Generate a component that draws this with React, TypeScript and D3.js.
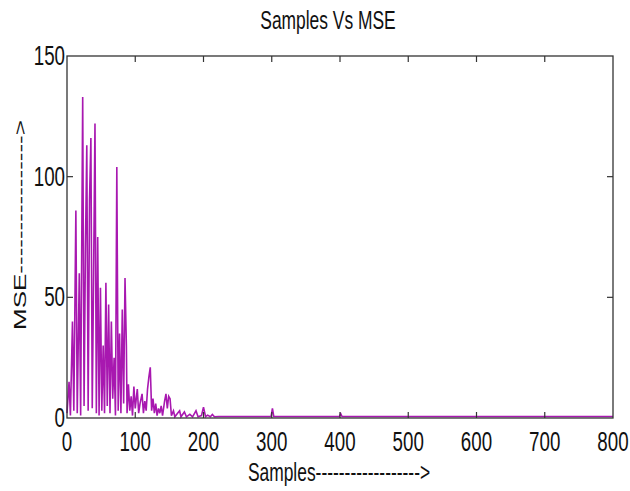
import React, { useEffect, useRef } from "react";
import * as d3 from "d3";

// MSE per sample as [sample, mse] pairs (peaks and valleys)
const samples: number[] = [
  0, 3, 5, 8, 10, 13, 15, 18, 20, 23, 25, 27, 29, 31, 33, 35, 37, 39, 41, 43,
  45, 47, 49, 51, 53, 55, 57, 59, 61, 63, 65, 67, 69, 71, 73, 75, 77, 79, 81, 83,
  85, 87, 88, 90, 92, 94, 96, 98, 100, 103, 105, 107, 110, 112, 114, 116, 118, 120, 122, 124,
  126, 128, 130, 132, 134, 136, 138, 140, 143, 145, 147, 149, 151, 153, 156, 158, 162, 165, 167, 172,
  175, 180, 184, 189, 192, 197, 200, 203, 206, 210, 213, 216, 222, 260, 299, 301, 303, 350, 399, 401,
  403, 500, 600, 700, 800,
];
const mse: number[] = [
  2, 15, 1, 40, 3, 86, 2, 60, 1, 133, 5, 70, 113, 3, 90, 116, 4, 60, 122, 2,
  75, 1, 54, 3, 30, 2, 56, 5, 47, 2, 40, 8, 25, 1, 104, 3, 35, 2, 45, 6,
  58, 30, 2, 14, 3, 9, 1, 13, 4, 12, 2, 6, 10, 2, 7, 3, 12, 17, 21, 3,
  8, 2, 6, 1, 4, 2, 5, 1, 7, 10, 4, 9, 8, 1, 3, 0.5, 2, 3, 0.5, 2.5,
  0.5, 1.5, 0.5, 3, 0.5, 1, 4.5, 0.6, 1.2, 0.5, 1.5, 0.5, 0.6, 0.6, 0.6, 4, 0.6, 0.6, 0.6, 1.8,
  0.6, 0.6, 0.6, 0.6, 0.6,
];

const xTicks: number[] = [0, 100, 200, 300, 400, 500, 600, 700, 800];
const yTicks: number[] = [0, 50, 100, 150];

const title = "Samples Vs MSE";
const xLabel = "Samples------------------>";
const yLabel = "MSE---------------->";

export default function App() {
  const svgRef = useRef<SVGSVGElement | null>(null);

  useEffect(() => {
    const width = 630;
    const height = 491;
    const squish = 0.67; // the whole figure was squeezed horizontally
    const margin = { left: 67, right: 17, top: 56, bottom: 73 };

    const svg = d3.select(svgRef.current).attr("width", width).attr("height", height);
    svg.selectAll("*").remove();

    svg.append("rect").attr("width", width).attr("height", height).attr("fill", "#ffffff");

    const x = d3.scaleLinear().domain([0, 800]).range([margin.left, width - margin.right]);
    const y = d3.scaleLinear().domain([0, 150]).range([height - margin.bottom, margin.top]);

    const font = "'Liberation Sans', Arial, Helvetica, sans-serif";

    // --- data line ---
    const pts = samples.map((s, i) => [s, mse[i]] as [number, number]);
    const line = d3
      .line<[number, number]>()
      .x((d) => x(d[0]))
      .y((d) => y(d[1]));

    svg
      .append("path")
      .datum(pts)
      .attr("d", line)
      .attr("fill", "none")
      .attr("stroke", "#a818b0")
      .attr("stroke-width", 1.6)
      .attr("stroke-linejoin", "miter");

    // --- frame ---
    svg
      .append("rect")
      .attr("x", x(0))
      .attr("y", y(150))
      .attr("width", x(800) - x(0))
      .attr("height", y(0) - y(150))
      .attr("fill", "none")
      .attr("stroke", "#333")
      .attr("stroke-width", 1.3);

    // inward ticks, top and bottom
    const tick = 6;
    xTicks.slice(1, -1).forEach((t) => {
      svg.append("line").attr("x1", x(t)).attr("x2", x(t)).attr("y1", y(0)).attr("y2", y(0) - tick)
        .attr("stroke", "#333").attr("stroke-width", 1.2);
      svg.append("line").attr("x1", x(t)).attr("x2", x(t)).attr("y1", y(150)).attr("y2", y(150) + tick)
        .attr("stroke", "#333").attr("stroke-width", 1.2);
    });
    yTicks.slice(1, -1).forEach((t) => {
      svg.append("line").attr("x1", x(0)).attr("x2", x(0) + tick).attr("y1", y(t)).attr("y2", y(t))
        .attr("stroke", "#333").attr("stroke-width", 1.2);
      svg.append("line").attr("x1", x(800)).attr("x2", x(800) - tick).attr("y1", y(t)).attr("y2", y(t))
        .attr("stroke", "#333").attr("stroke-width", 1.2);
    });

    const fs = 26;
    const tickFs = 28;

    // tick labels
    xTicks.forEach((t) => {
      svg.append("text")
        .attr("transform", `translate(${x(t)},${y(0) + 33}) scale(${squish},1)`)
        .attr("text-anchor", "middle")
        .attr("font-family", font)
        .attr("font-size", tickFs)
        .attr("fill", "#111")
        .text(t);
    });
    yTicks.forEach((t) => {
      svg.append("text")
        .attr("transform", `translate(${x(0) - 2},${y(t) + 9}) scale(${squish},1)`)
        .attr("text-anchor", "end")
        .attr("font-family", font)
        .attr("font-size", tickFs)
        .attr("fill", "#111")
        .text(t);
    });

    // title
    svg.append("text")
      .attr("transform", `translate(328,29) scale(${squish},1)`)
      .attr("text-anchor", "middle")
      .attr("font-family", font)
      .attr("font-size", fs)
      .attr("fill", "#111")
      .text(title);

    // axis labels
    svg.append("text")
      .attr("transform", `translate(339,481) scale(${squish},1)`)
      .attr("text-anchor", "middle")
      .attr("font-family", font)
      .attr("font-size", fs)
      .attr("fill", "#111")
      .text(xLabel);

    svg.append("text")
      .attr("transform", `translate(26,225) scale(${squish},1) rotate(-90)`)
      .attr("text-anchor", "middle")
      .attr("font-family", font)
      .attr("font-size", fs)
      .attr("fill", "#111")
      .text(yLabel);
  }, []);

  return <svg ref={svgRef} style={{ position: "absolute", left: 0, top: 0 }}></svg>;
}
